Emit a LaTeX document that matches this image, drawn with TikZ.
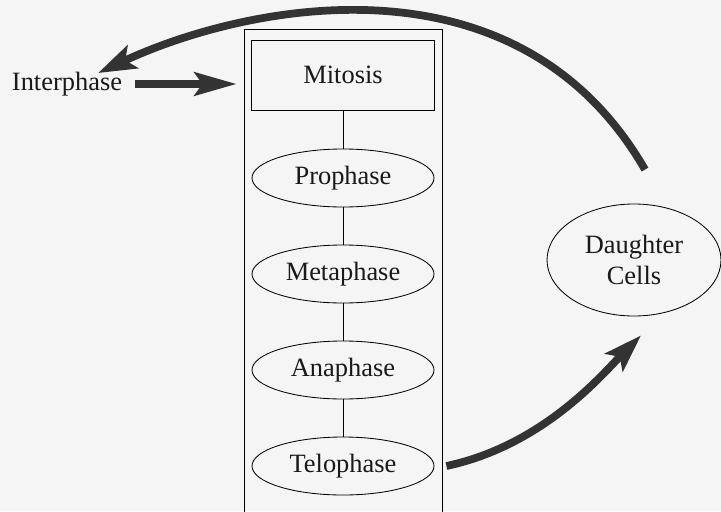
\documentclass[tikz,border=0pt]{standalone}
\usepackage{fontspec}
\setmainfont{Liberation Serif}
\usepackage{tikz}
\usetikzlibrary{arrows.meta,shapes.geometric}

\begin{document}
\begin{tikzpicture}[
	txt/.style={font=\fontsize{18.8}{21.5}\selectfont,text=black!90},
	phase/.style={txt,draw=black,line width=0.6pt,ellipse,minimum width=4.55cm,minimum height=1.45cm,inner sep=0pt},
	link/.style={draw=black,line width=0.6pt},
	bigarrow/.style={draw=black!80,line width=5.5pt,-{Stealth[length=0.95cm,width=0.62cm,inset=0.2cm]}}]
	\fill [black!4] (0,0) rectangle (18.025,12.775);
	\useasboundingbox (0,0) rectangle (18.025,12.775);
	\clip (0,0) rectangle (18.025,12.775);
	\node [link,minimum width=4.95cm,minimum height=13.05cm] (frame) at (8.575,5.525) {};
	\node [txt,link,minimum width=4.575cm,minimum height=1.75cm] (mitosis) at (8.575,10.9) {Mitosis};
	\node [phase] (pro) at (8.575,8.325) {Prophase};
	\node [phase] (meta) at (8.575,5.925) {Metaphase};
	\node [phase] (ana) at (8.575,3.525) {Anaphase};
	\node [phase] (telo) at (8.575,1.125) {Telophase};
	\node [phase,minimum width=4.35cm,minimum height=2.8cm,align=center] (daughter) at (15.85,6.275) {Daughter\\Cells};
	\node [txt] (inter) at (1.675,10.675) {Interphase};
	\draw [link] (mitosis) -- (pro);
	\draw [link] (pro) -- (meta);
	\draw [link] (meta) -- (ana);
	\draw [link] (ana) -- (telo);
	\draw [bigarrow,-{Stealth[length=1.05cm,width=0.58cm,inset=0.2cm]},shorten <=0.2cm,shorten >=0.175cm] (inter.east) -- (inter.east -| frame.west);
	\draw [bigarrow] ([xshift=0.1cm]telo.east -| frame.east) .. controls +(12:2.5) and +(225:1.3) .. ([xshift=0.175cm,yshift=-0.475cm]daughter.south);
	\draw [bigarrow] ([xshift=0.275cm,yshift=0.85cm]daughter.north) .. controls +(120:6.37) and +(25:4.14) .. ([xshift=0.775cm,yshift=-0.15cm]inter.north);
\end{tikzpicture}
\end{document}
